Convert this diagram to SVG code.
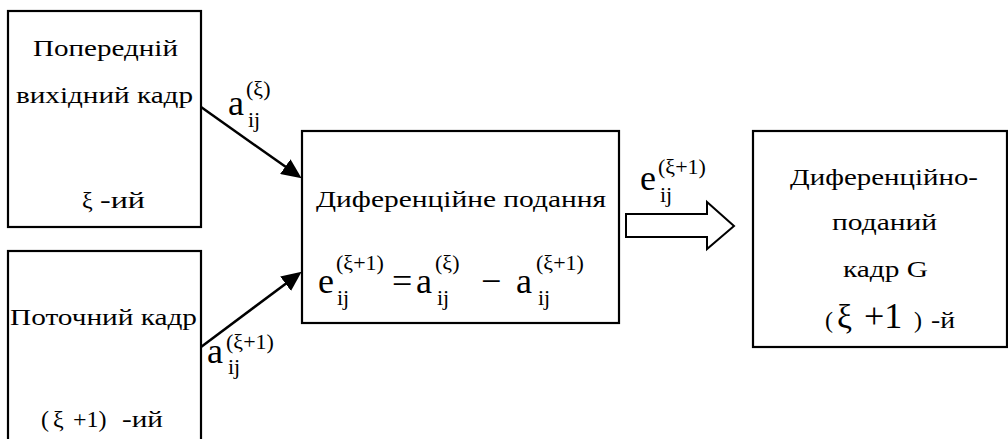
<svg xmlns="http://www.w3.org/2000/svg" width="1008" height="439" viewBox="0 0 1008 439">
<defs>
<marker id="ah" markerUnits="userSpaceOnUse" markerWidth="22" markerHeight="18" refX="6" refY="9" orient="auto">
<path d="M0,0 L20,9 L0,18 z" fill="#000"/>
</marker>
</defs>
<rect width="1008" height="439" fill="#fff"/>
<g id="prev-frame">
<rect x="8" y="11" width="193" height="216" fill="#fff" stroke="#000" stroke-width="2.2"/>
<text x="33" y="56" font-family="Times New Roman" font-size="24" textLength="145" lengthAdjust="spacingAndGlyphs">Попередній</text>
<text x="16" y="103" font-family="Times New Roman" font-size="24" textLength="177" lengthAdjust="spacingAndGlyphs">вихідний кадр</text>
<text x="82" y="208" font-family="Times New Roman" font-size="24">ξ</text>
<text x="100" y="208" font-family="Times New Roman" font-size="24" textLength="45" lengthAdjust="spacingAndGlyphs">-ий</text>
</g>
<g id="cur-frame">
<rect x="8" y="251" width="193" height="200" fill="#fff" stroke="#000" stroke-width="2.2"/>
<text x="10" y="325" font-family="Times New Roman" font-size="24" textLength="187" lengthAdjust="spacingAndGlyphs">Поточний кадр</text>
<text x="41" y="427" font-family="Times New Roman" font-size="24">(</text>
<text x="53" y="427" font-family="Times New Roman" font-size="24">ξ</text>
<text x="73" y="427" font-family="Times New Roman" font-size="24">+1)</text>
<text x="122" y="427" font-family="Times New Roman" font-size="24" textLength="41" lengthAdjust="spacingAndGlyphs">-ий</text>
</g>
<g id="diff">
<rect x="302" y="131" width="317" height="192" fill="#fff" stroke="#000" stroke-width="2.2"/>
<text x="316" y="207" font-family="Times New Roman" font-size="24" textLength="290" lengthAdjust="spacingAndGlyphs">Диференційне подання</text>
<text font-family="Times New Roman" font-size="24" transform="translate(318,293) scale(1.5)">e</text>
<text x="336" y="270" font-family="Times New Roman" font-size="22">(ξ+1)</text>
<text x="337" y="305" font-family="Times New Roman" font-size="22">ij</text>
<text font-family="Times New Roman" font-size="24" transform="translate(392,293) scale(1.5)">=</text>
<text font-family="Times New Roman" font-size="24" transform="translate(416,293) scale(1.5)">a</text>
<text x="435" y="270" font-family="Times New Roman" font-size="22">(ξ)</text>
<text x="437" y="305" font-family="Times New Roman" font-size="22">ij</text>
<text font-family="Times New Roman" font-size="24" transform="translate(481,293) scale(1.5)">−</text>
<text font-family="Times New Roman" font-size="24" transform="translate(516,293) scale(1.5)">a</text>
<text x="536" y="270" font-family="Times New Roman" font-size="22">(ξ+1)</text>
<text x="538" y="305" font-family="Times New Roman" font-size="22">ij</text>
</g>
<g id="result">
<rect x="753" y="131" width="254" height="216" fill="#fff" stroke="#000" stroke-width="2.2"/>
<text x="790" y="185" font-family="Times New Roman" font-size="24" textLength="188" lengthAdjust="spacingAndGlyphs">Диференційно-</text>
<text x="832" y="230" font-family="Times New Roman" font-size="24" textLength="105" lengthAdjust="spacingAndGlyphs">поданий</text>
<text x="843" y="277" font-family="Times New Roman" font-size="24" textLength="85" lengthAdjust="spacingAndGlyphs">кадр G</text>
<text x="825" y="328" font-family="Times New Roman" font-size="24">(</text>
<text font-family="Times New Roman" font-size="24" transform="translate(837,328) scale(1.4)">ξ</text>
<text font-family="Times New Roman" font-size="24" transform="translate(864,328) scale(1.5)">+1</text>
<text x="914" y="328" font-family="Times New Roman" font-size="24">)</text>
<text x="931" y="328" font-family="Times New Roman" font-size="24" textLength="24" lengthAdjust="spacingAndGlyphs">-й</text>
</g>
<g id="connectors">
<line x1="201" y1="107" x2="290.2" y2="170.1" stroke="#000" stroke-width="2.5" marker-end="url(#ah)"/>
<line x1="201" y1="347" x2="290.4" y2="280.2" stroke="#000" stroke-width="2.5" marker-end="url(#ah)"/>
<polygon points="626,214 707,214 707,202 734,226 707,249 707,237 626,237" fill="#fff" stroke="#000" stroke-width="2"/>
<text font-family="Times New Roman" font-size="24" transform="translate(228,115) scale(1.5)">a</text>
<text x="246" y="96" font-family="Times New Roman" font-size="22">(ξ)</text>
<text x="248" y="127" font-family="Times New Roman" font-size="22">ij</text>
<text font-family="Times New Roman" font-size="24" transform="translate(207,363) scale(1.5)">a</text>
<text x="226" y="349" font-family="Times New Roman" font-size="22">(ξ+1)</text>
<text x="228" y="374" font-family="Times New Roman" font-size="22">ij</text>
<text font-family="Times New Roman" font-size="24" transform="translate(640,190) scale(1.5)">e</text>
<text x="658" y="174" font-family="Times New Roman" font-size="22">(ξ+1)</text>
<text x="660" y="202" font-family="Times New Roman" font-size="22">ij</text>
</g>
</svg>
